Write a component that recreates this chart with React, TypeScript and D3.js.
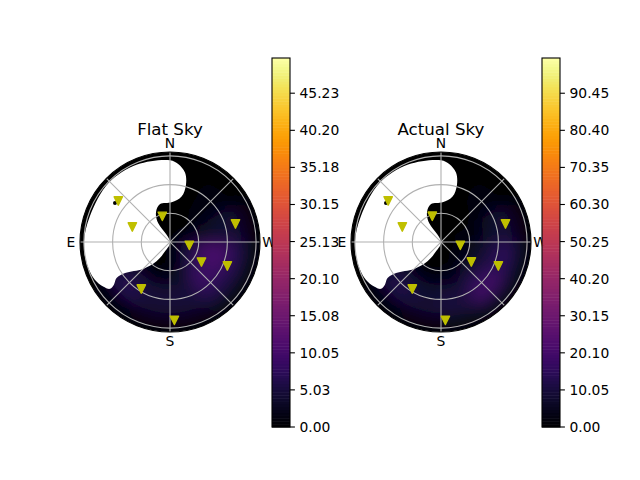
import * as d3 from "d3"

const FONT = "DejaVu Sans"
const GRID_COLOR = "#b0b0b0"
const MARKER_COLOR = "#bfbf00"
const R_MAX = 94.1
const R_PX = 90

// azimuth runs N 0, E 90, S 180, W 270 (counter clockwise on screen)
const azimuthStarts = [0, 30, 60, 90, 120, 150, 180, 210, 240, 270, 300, 330]
const zenithBands = [0, 15, 30, 45, 60, 75, 90]

// rows follow azimuthStarts, columns follow zenithBands
const flatValues = [
  [0, 0, 0, 0, 0, 0],
  [0, 0, 0, 0, 0, 0],
  [0, 0, 0, 0, 0, 0],
  [0, 0, 0, 0, 0, 0],
  [0, 0.2, 1, 5.5, 7, 2],
  [0.2, 0.4, 1.5, 4.5, 5, 2.5],
  [0.5, 1.5, 3, 5, 5, 2.5],
  [1.5, 4, 8, 9.5, 7, 3.5],
  [3, 6.5, 10.5, 11, 7.5, 3.5],
  [1, 2, 3, 4, 4.5, 2.5],
  [0.2, 0.5, 0.7, 1, 1.2, 0.5],
  [0.2, 0.2, 0.2, 0.3, 0.5, 0.2],
]
const actualValues = [
  [0, 0, 0, 0, 0, 0],
  [0, 0, 0, 0, 0, 0],
  [0, 0, 0, 0, 0, 0],
  [0, 0, 0, 0, 0, 0],
  [0, 0.2, 1.5, 10, 13, 4],
  [0.2, 0.5, 2, 8, 10, 5],
  [0.2, 1, 4, 9, 11, 6],
  [0.5, 2.5, 6, 14, 21, 10],
  [1, 3, 6, 11, 16, 8],
  [0.5, 1.5, 3, 7, 10, 5],
  [0.2, 0.5, 1, 2, 3, 1],
  [0.2, 0.2, 0.3, 0.6, 1, 0.5],
]

// outline of the area with no data, [azimuth, zenith]
const maskOutline: [number, number][] = [
  [0, 0], [31.5, 25.4], [24.5, 35], [14.7, 41], [-2.4, 41.6], [-14.3, 49],
  [-15.6, 62], [-12.3, 74], [-6, 82], [0, 85.5], [23, 88], [46, 89],
  [72, 88], [90, 90], [104, 90], [116.7, 88], [123.6, 84], [128, 79.6],
  [127.3, 73.7], [124, 67.4], [124.6, 57], [135, 39.8], [145, 24.6], [152, 11],
]
const holeSpot: [number, number] = [54.7, 70.5]

const flatStars: [number, number][] = [
  [51.6, 69], [68.3, 42.4], [16.6, 28], [260.2, 20.5], [237.5, 39],
  [247.3, 65], [285.4, 71], [148.6, 57.6], [183.2, 82],
]
const actualStars: [number, number][] = [
  [52.1, 70], [68.8, 43.4], [18.7, 28.4], [260.2, 20.5], [236.6, 38],
  [247.3, 65], [285.6, 70], [148.6, 57.6], [183.2, 82],
]

const flatTicks = [0, 5.03, 10.05, 15.08, 20.1, 25.13, 30.15, 35.18, 40.2, 45.23]
const actualTicks = [0, 10.05, 20.1, 30.15, 40.2, 50.25, 60.3, 70.35, 80.4, 90.45]
const flatMax = 50
const actualMax = 100

const gridZeniths = [30, 60, 90]
const gridSpokes = [0, 45, 90, 135]
const compass: [string, number][] = [["N", 0], ["E", 90], ["S", 180], ["W", 270]]

const rad = (az: number) => (-az * Math.PI) / 180
const r = d3.scaleLinear().domain([0, R_MAX]).range([0, R_PX])
const arc = d3.arc()

const maskPath = d3
  .lineRadial<[number, number]>()
  .angle((d) => rad(d[0]))
  .radius((d) => r(d[1]))
  .curve(d3.curveCatmullRomClosed.alpha(0.5))(maskOutline)!

const markerPath = d3.line()([[-4.2, -4.2], [4.2, -4.2], [0, 4.2]]) + "Z"

interface PanelProps {
  id: string
  title: string
  cx: number
  barX: number
  values: number[][]
  stars: [number, number][]
  ticks: number[]
  max: number
}

function Panel({ id, title, cx, barX, values, stars, ticks, max }: PanelProps) {
  const cy = 242
  const color = d3.scaleSequential(d3.interpolateInferno).domain([0, max])
  const y = d3.scaleLinear().domain([0, max]).range([427, 58])
  const barSteps = d3.range(0, max, max / 128)
  const polar = (az: number, z: number): [number, number] => {
    const a = rad(az)
    return [r(z) * Math.sin(a), -r(z) * Math.cos(a)]
  }

  return (
    <g>
      <text x={cx} y={135} fontSize={16.67} textAnchor="middle" fill="#000">
        {title}
      </text>
      <clipPath id={`clip-${id}`}>
        <circle cx={cx} cy={cy} r={R_PX} />
      </clipPath>
      <filter id={`blur-${id}`} filterUnits="userSpaceOnUse" x={cx - 110} y={cy - 110} width={220} height={220}>
        <feGaussianBlur stdDeviation={8} />
      </filter>
      <g clipPath={`url(#clip-${id})`}>
        <circle cx={cx} cy={cy} r={R_PX} fill="#000" />
        <g filter={`url(#blur-${id})`}>
          <g transform={`translate(${cx},${cy})`}>
            {values.map((row, i) =>
              row.map((v, j) => (
                <path
                  key={`${i}-${j}`}
                  d={
                    arc({
                      innerRadius: r(zenithBands[j]),
                      outerRadius: r(zenithBands[j + 1]),
                      startAngle: rad(azimuthStarts[i] + 30),
                      endAngle: rad(azimuthStarts[i]),
                    })!
                  }
                  fill={color(v)}
                  stroke={color(v)}
                  strokeWidth={0.5}
                />
              )),
            )}
          </g>
        </g>
        <g transform={`translate(${cx},${cy})`}>
          <path d={maskPath} fill="#fff" />
          <circle cx={polar(holeSpot[0], holeSpot[1])[0]} cy={polar(holeSpot[0], holeSpot[1])[1]} r={2} fill="#000" />
        </g>
      </g>
      <g transform={`translate(${cx},${cy})`}>
        {gridZeniths.map((z) => (
          <circle key={z} r={r(z)} fill="none" stroke={GRID_COLOR} strokeWidth={1.1} />
        ))}
        {gridSpokes.map((az) => {
          const a = polar(az, R_MAX)
          const b = polar(az + 180, R_MAX)
          return <line key={az} x1={a[0]} y1={a[1]} x2={b[0]} y2={b[1]} stroke={GRID_COLOR} strokeWidth={1.1} />
        })}
        <circle r={R_PX} fill="none" stroke="#000" strokeWidth={1.1} />
        {stars.map((s, i) => {
          const p = polar(s[0], s[1])
          return (
            <path
              key={i}
              d={markerPath}
              transform={`translate(${p[0]},${p[1]})`}
              fill={MARKER_COLOR}
              stroke={MARKER_COLOR}
              strokeWidth={1.4}
              strokeLinejoin="round"
            />
          )
        })}
        {compass.map(([label, az]) => {
          const p = polar(az, R_MAX + 9.5)
          return (
            <text key={label} x={p[0]} y={p[1]} fontSize={13.89} textAnchor="middle" dominantBaseline="central" fill="#000">
              {label}
            </text>
          )
        })}
      </g>
      {barSteps.map((v) => (
        <rect
          key={v}
          x={barX}
          y={y(v + max / 128)}
          width={18}
          height={y(v) - y(v + max / 128) + 0.5}
          fill={color(v + max / 256)}
        />
      ))}
      <rect x={barX} y={58} width={18} height={369} fill="none" stroke="#000" strokeWidth={1.1} />
      {ticks.map((t) => (
        <g key={t} transform={`translate(${barX + 18},${y(t)})`}>
          <line x2={4.9} stroke="#000" strokeWidth={1.1} />
          <text x={9.5} fontSize={13.89} dominantBaseline="central" fill="#000">
            {t.toFixed(2)}
          </text>
        </g>
      ))}
    </g>
  )
}

export default function App() {
  return (
    <svg
      width={640}
      height={480}
      viewBox="0 0 640 480"
      fontFamily={FONT}
      style={{ position: "absolute", left: 0, top: 0, background: "#fff" }}
    >
      <Panel id="flat" title="Flat Sky" cx={170} barX={272} values={flatValues} stars={flatStars} ticks={flatTicks} max={flatMax} />
      <Panel id="actual" title="Actual Sky" cx={441} barX={542} values={actualValues} stars={actualStars} ticks={actualTicks} max={actualMax} />
    </svg>
  )
}
